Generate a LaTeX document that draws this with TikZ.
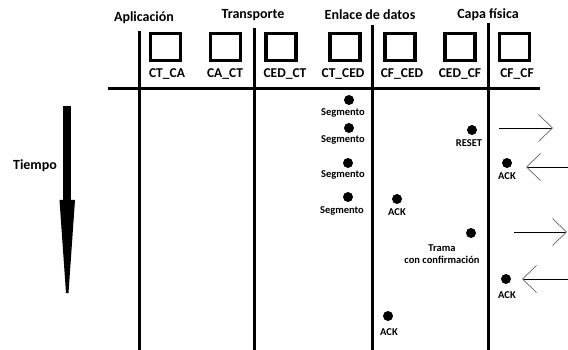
\documentclass[tikz,border=0pt]{standalone}
\usepackage{fontspec}
\setmainfont{Carlito}
\usetikzlibrary{arrows.meta}
\begin{document}
\begin{tikzpicture}[x=1pt,y=-1pt,
  head/.style={font=\bfseries\fontsize{14}{16}\selectfont, inner sep=0pt},
  boxlab/.style={font=\bfseries\fontsize{13.5}{15}\selectfont, inner sep=0pt},
  small/.style={font=\bfseries\fontsize{10.5}{12}\selectfont, inner sep=0pt, align=center},
  layer/.style={line width=3pt},
  entity/.style={draw, line width=3.5pt, minimum width=30pt, minimum height=27pt, inner sep=0pt},
  dot/.style={circle, fill=black, inner sep=0pt, minimum size=10pt},
  msg/.style={line width=0.8pt, -{Straight Barb[length=14pt,width=27pt,line width=0.7pt,color=black!60]}}
]
\useasboundingbox (0,0) rectangle (568,350);
% headers
\node[head] (hapl) at (144,18) {Aplicación};
\node[head] (htra) at (253,15) {Transporte};
\node[head] (henl) at (370,15) {Enlace de datos};
\node[head] (hcap) at (488,15) {Capa física};
% layer lines
\coordinate (v1t) at (139,31); \coordinate (v1b) at (139,350);
\coordinate (v2t) at (254,28); \coordinate (v2b) at (254,350);
\coordinate (v3t) at (372,25); \coordinate (v3b) at (372,350);
\coordinate (v4t) at (488,23); \coordinate (v4b) at (488,350);
\coordinate (hl) at (108,88.5); \coordinate (hr) at (540,88.5);
\draw[layer] (v1t) -- (v1b);
\draw[layer] (v2t) -- (v2b);
\draw[layer] (v3t) -- (v3b);
\draw[layer] (v4t) -- (v4b);
\draw[layer] (hl) -- (hr);
% entities
\node[entity] (b1) at (165.5,47) {};
\node[entity] (b2) at (225.5,47) {};
\node[entity] (b3) at (281,47) {};
\node[entity] (b4) at (345,47) {};
\node[entity] (b5) at (400,47) {};
\node[entity] (b6) at (460,47) {};
\node[entity] (b7) at (514.5,47) {};
\node[boxlab] (l1) at (167,74) {CT\_CA};
\node[boxlab] (l2) at (225,74) {CA\_CT};
\node[boxlab] (l3) at (285,74) {CED\_CT};
\node[boxlab] (l4) at (343,74) {CT\_CED};
\node[boxlab] (l5) at (402,74) {CF\_CED};
\node[boxlab] (l6) at (460,74) {CED\_CF};
\node[boxlab] (l7) at (517,74) {CF\_CF};
% time arrow
\node[head] (tiempo) at (35,166) {Tiempo};
\fill (63,106) rectangle (71,201);
\fill (59.5,200) -- (75,200) -- (68.5,293) -- (66,293) -- cycle;
% events
\node[dot] (s1) at (349,100) {}; \node[small] (s1l) at (343,113) {Segmento};
\node[dot] (s2) at (349,128) {}; \node[small] (s2l) at (343,140) {Segmento};
\node[dot] (s3) at (348,163) {}; \node[small] (s3l) at (343,175) {Segmento};
\node[dot] (s4) at (348,197) {}; \node[small] (s4l) at (342,211) {Segmento};
\node[dot] (a1) at (397,199) {}; \node[small] (a1l) at (397,212) {ACK};
\node[dot] (r1) at (472,130) {}; \node[small] (r1l) at (469,143) {RESET};
\node[dot] (a2) at (507,163) {}; \node[small] (a2l) at (507,176) {ACK};
\node[dot] (t1) at (471,233) {}; \node[small] (t1l) at (442,254) {Trama\\con confirmación};
\node[dot] (a3) at (506,279) {}; \node[small] (a3l) at (507,295) {ACK};
\node[dot] (a4) at (388,316) {}; \node[small] (a4l) at (389,332) {ACK};
% messages to/from the physical medium
\coordinate (m1s) at (499,128); \coordinate (m1e) at (553,128);
\coordinate (m2s) at (568,167); \coordinate (m2e) at (526,167);
\coordinate (m3s) at (514,232); \coordinate (m3e) at (567,232);
\coordinate (m4s) at (568,279); \coordinate (m4e) at (522,279);
\draw[msg] (m1s) -- (m1e);
\draw[msg] (m2s) -- (m2e);
\draw[msg] (m3s) -- (m3e);
\draw[msg] (m4s) -- (m4e);
\end{tikzpicture}
\end{document}
